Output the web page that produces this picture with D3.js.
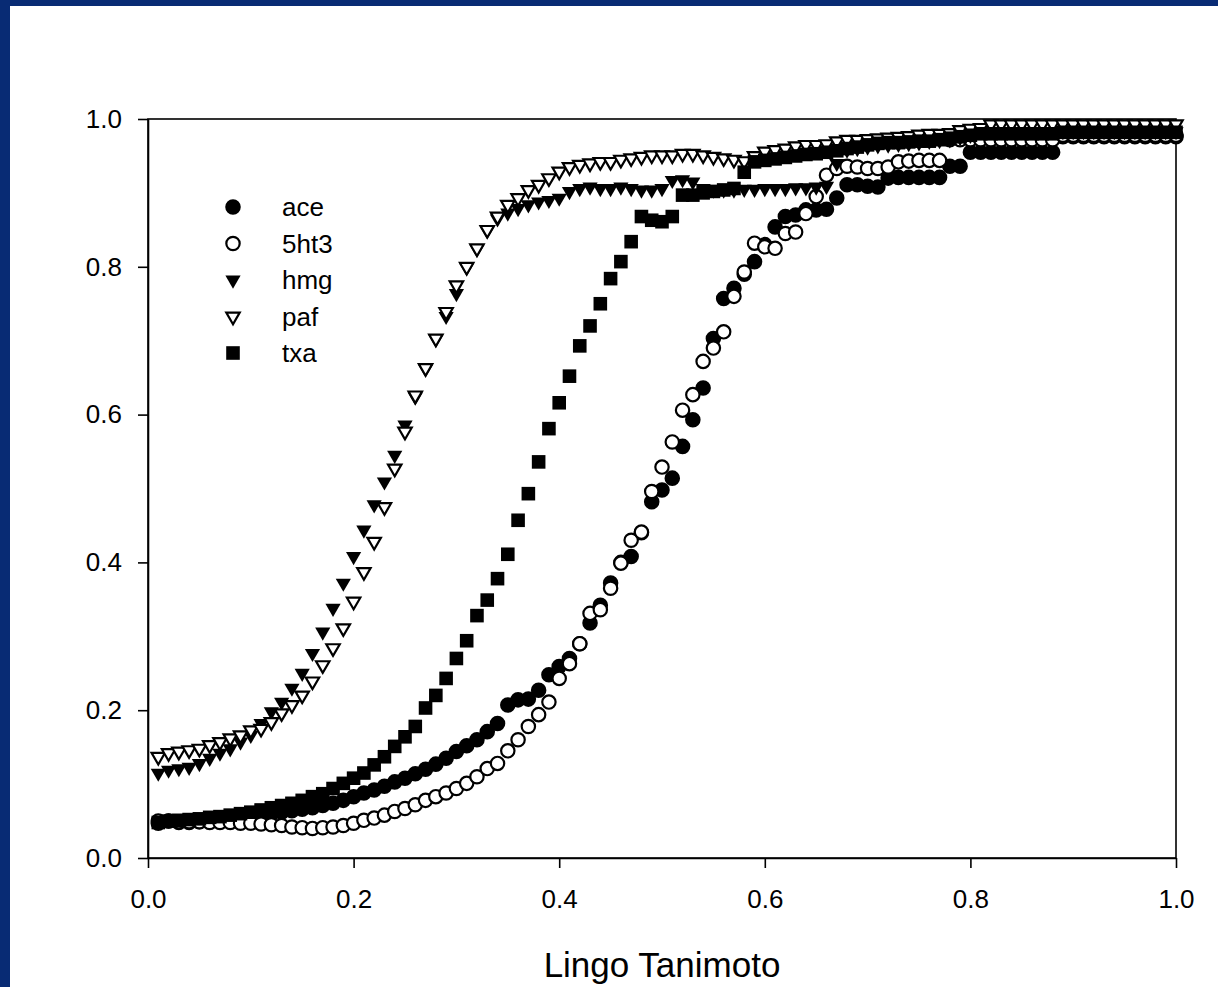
<!DOCTYPE html>
<html>
<head>
<meta charset="utf-8">
<script src="https://cdn.jsdelivr.net/npm/d3@7"></script>
<style>
html,body{margin:0;padding:0;background:#ffffff;overflow:hidden;}
svg{display:block;}
</style>
</head>
<body>
<svg id="chart" width="1218" height="987"></svg>
<script>
// ---------- DATA ----------
const xValues = [
 0.01,0.02,0.03,0.04,0.05,0.06,0.07,0.08,0.09,0.10,
 0.11,0.12,0.13,0.14,0.15,0.16,0.17,0.18,0.19,0.20,
 0.21,0.22,0.23,0.24,0.25,0.26,0.27,0.28,0.29,0.30,
 0.31,0.32,0.33,0.34,0.35,0.36,0.37,0.38,0.39,0.40,
 0.41,0.42,0.43,0.44,0.45,0.46,0.47,0.48,0.49,0.50,
 0.51,0.52,0.53,0.54,0.55,0.56,0.57,0.58,0.59,0.60,
 0.61,0.62,0.63,0.64,0.65,0.66,0.67,0.68,0.69,0.70,
 0.71,0.72,0.73,0.74,0.75,0.76,0.77,0.78,0.79,0.80,
 0.81,0.82,0.83,0.84,0.85,0.86,0.87,0.88,0.89,0.90,
 0.91,0.92,0.93,0.94,0.95,0.96,0.97,0.98,0.99,1.00];

const ace = [
 0.047,0.050,0.048,0.048,0.049,0.050,0.051,0.052,0.054,0.056,
 0.058,0.060,0.062,0.064,0.066,0.068,0.071,0.074,0.078,0.083,
 0.088,0.092,0.097,0.103,0.108,0.114,0.120,0.127,0.135,0.144,
 0.152,0.160,0.171,0.182,0.207,0.214,0.215,0.227,0.248,0.259,
 0.270,0.290,0.318,0.342,0.372,0.400,0.408,0.440,0.482,0.498,
 0.514,0.557,0.593,0.636,0.703,0.757,0.771,0.790,0.807,0.830,
 0.854,0.868,0.870,0.877,0.877,0.878,0.893,0.911,0.911,0.909,
 0.908,0.920,0.921,0.921,0.921,0.921,0.921,0.936,0.936,0.955,
 0.955,0.955,0.955,0.955,0.955,0.955,0.955,0.955,0.976,0.976,
 0.976,0.976,0.976,0.976,0.976,0.976,0.976,0.976,0.976,0.976];

const ht3 = [
 0.050,0.050,0.049,0.049,0.049,0.048,0.048,0.048,0.047,0.047,
 0.046,0.045,0.044,0.042,0.041,0.040,0.041,0.042,0.044,0.047,
 0.051,0.054,0.058,0.063,0.067,0.072,0.078,0.083,0.088,0.094,
 0.101,0.110,0.121,0.128,0.145,0.160,0.178,0.194,0.211,0.243,
 0.263,0.290,0.331,0.336,0.365,0.399,0.430,0.441,0.496,0.529,
 0.563,0.606,0.627,0.672,0.690,0.712,0.760,0.793,0.832,0.827,
 0.825,0.845,0.847,0.872,0.895,0.924,0.933,0.936,0.935,0.933,
 0.933,0.935,0.942,0.943,0.944,0.944,0.944,0.972,0.972,0.972,
 0.972,0.972,0.972,0.972,0.972,0.972,0.972,0.972,0.978,0.978,
 0.978,0.978,0.978,0.978,0.978,0.978,0.978,0.978,0.978,0.978];

const hmg = [
 0.115,0.119,0.121,0.123,0.128,0.135,0.142,0.148,0.157,0.166,
 0.182,0.198,0.211,0.230,0.250,0.277,0.306,0.338,0.372,0.408,
 0.444,0.478,0.509,0.545,0.586,0.624,0.662,0.702,0.733,0.764,
 0.799,0.824,0.849,0.865,0.873,0.879,0.884,0.888,0.890,0.893,
 0.902,0.906,0.908,0.906,0.906,0.908,0.906,0.904,0.904,0.906,
 0.917,0.918,0.915,0.906,0.904,0.904,0.904,0.905,0.905,0.906,
 0.906,0.906,0.907,0.907,0.908,0.909,0.940,0.958,0.960,0.962,
 0.964,0.965,0.966,0.967,0.968,0.970,0.971,0.972,0.975,0.978,
 0.983,0.983,0.983,0.983,0.983,0.983,0.983,0.983,0.983,0.983,
 0.983,0.983,0.983,0.983,0.983,0.983,0.983,0.983,0.983,0.983];

const paf = [
 0.137,0.142,0.144,0.146,0.148,0.153,0.157,0.162,0.166,0.173,
 0.175,0.184,0.196,0.207,0.220,0.239,0.261,0.284,0.311,0.347,
 0.387,0.428,0.475,0.527,0.577,0.626,0.663,0.703,0.739,0.775,
 0.800,0.825,0.850,0.868,0.884,0.893,0.904,0.911,0.920,0.929,
 0.935,0.938,0.940,0.942,0.942,0.945,0.947,0.949,0.951,0.951,
 0.951,0.953,0.953,0.951,0.949,0.947,0.945,0.943,0.950,0.956,
 0.958,0.960,0.963,0.965,0.965,0.966,0.970,0.972,0.972,0.973,
 0.974,0.975,0.976,0.977,0.979,0.980,0.980,0.981,0.985,0.987,
 0.988,0.993,0.993,0.993,0.993,0.993,0.993,0.993,0.993,0.993,
 0.993,0.993,0.993,0.993,0.993,0.993,0.993,0.993,0.993,0.993];

const txa = [
 0.048,0.050,0.051,0.052,0.053,0.055,0.056,0.058,0.060,0.062,
 0.065,0.068,0.071,0.074,0.078,0.083,0.087,0.094,0.101,0.108,
 0.115,0.126,0.137,0.151,0.164,0.178,0.203,0.220,0.243,0.270,
 0.294,0.328,0.349,0.378,0.411,0.457,0.493,0.536,0.581,0.616,
 0.652,0.693,0.720,0.750,0.784,0.807,0.834,0.868,0.863,0.861,
 0.868,0.897,0.897,0.900,0.902,0.904,0.906,0.928,0.942,0.944,
 0.946,0.948,0.950,0.952,0.953,0.955,0.957,0.960,0.962,0.965,
 0.967,0.968,0.968,0.969,0.970,0.970,0.972,0.974,0.976,0.978,
 0.980,0.980,0.980,0.980,0.980,0.980,0.980,0.980,0.982,0.982,
 0.982,0.982,0.982,0.982,0.982,0.982,0.982,0.982,0.982,0.982];

const seriesNames = ["ace","5ht3","hmg","paf","txa"];
const seriesValues = [ace, ht3, hmg, paf, txa];
const xTicks = [0.0,0.2,0.4,0.6,0.8,1.0];
const yTicks = [0.0,0.2,0.4,0.6,0.8,1.0];
const xTitle = "Lingo Tanimoto";

// ---------- STYLE ----------
const W = 1218, H = 987;
const plot = {left:148, right:1176, top:119, bottom:858};
const FONT = "Arial, 'Liberation Sans', Helvetica, sans-serif";
const frameBlue = "#082b74";

const markerStyle = {
  "ace":  {type:d3.symbolCircle,   size:190, fill:"#000", stroke:"none", sw:0, rot:0},
  "5ht3": {type:d3.symbolCircle,   size:140, fill:"#fff", stroke:"#000", sw:2.2, rot:0},
  "hmg":  {type:d3.symbolTriangle, size:100, fill:"#000", stroke:"none", sw:0, rot:180},
  "paf":  {type:d3.symbolTriangle, size:78,  fill:"#fff", stroke:"#000", sw:2.2, rot:180},
  "txa":  {type:d3.symbolSquare,   size:185, fill:"#000", stroke:"none", sw:0, rot:0}
};

const svg = d3.select("#chart");
svg.append("rect").attr("x",0).attr("y",0).attr("width",W).attr("height",H).attr("fill","#fff");
// blue slide frame (top and left strips)
svg.append("rect").attr("x",0).attr("y",0).attr("width",W).attr("height",6).attr("fill",frameBlue);
svg.append("rect").attr("x",0).attr("y",0).attr("width",10).attr("height",H).attr("fill",frameBlue);

const x = d3.scaleLinear().domain([0,1]).range([plot.left, plot.right]);
const y = d3.scaleLinear().domain([0,1]).range([plot.bottom, plot.top]);

// frame
svg.append("rect")
  .attr("x", plot.left).attr("y", plot.top)
  .attr("width", plot.right-plot.left).attr("height", plot.bottom-plot.top)
  .attr("fill","none").attr("stroke","#000").attr("stroke-width",1.6);

const fmt = d3.format(".1f");
const xAxis = svg.append("g").attr("transform",`translate(0,${plot.bottom})`)
  .call(d3.axisBottom(x).tickValues(xTicks).tickFormat(fmt).tickSize(10).tickSizeOuter(0).tickPadding(22));
const yAxis = svg.append("g").attr("transform",`translate(${plot.left},0)`)
  .call(d3.axisLeft(y).tickValues(yTicks).tickFormat(fmt).tickSize(10).tickSizeOuter(0).tickPadding(16));

[xAxis, yAxis].forEach(g => {
  g.select(".domain").attr("stroke","#000").attr("stroke-width",1.6);
  g.selectAll(".tick line").attr("stroke","#000").attr("stroke-width",1.6);
  g.selectAll(".tick text").attr("fill","#000").style("font-family",FONT).style("font-size","26px");
});

// x axis title
svg.append("text").attr("x",(plot.left+plot.right)/2).attr("y",977)
  .attr("text-anchor","middle").style("font-family",FONT).style("font-size","35px").attr("fill","#000")
  .text(xTitle);

// data points
seriesNames.forEach((name, si) => {
  const st = markerStyle[name];
  const sym = d3.symbol().type(st.type).size(st.size);
  svg.append("g").attr("class","series-"+name)
    .selectAll("path").data(xValues.map((xv,i)=>({x:xv, y:seriesValues[si][i]})))
    .join("path")
    .attr("d", sym())
    .attr("transform", d => `translate(${x(d.x)},${y(d.y)}) rotate(${st.rot})`)
    .attr("fill", st.fill)
    .attr("stroke", st.stroke)
    .attr("stroke-width", st.sw);
});

// legend
const legend = svg.append("g").attr("transform","translate(233,207)");
seriesNames.forEach((name, i) => {
  const st = markerStyle[name];
  const sym = d3.symbol().type(st.type).size(st.size);
  const row = legend.append("g").attr("transform",`translate(0,${i*36.5})`);
  row.append("path").attr("d", sym()).attr("transform",`rotate(${st.rot})`)
    .attr("fill",st.fill).attr("stroke",st.stroke).attr("stroke-width",st.sw);
  row.append("text").attr("x",49).attr("y",0).attr("dy","0.35em")
    .style("font-family",FONT).style("font-size","26px").attr("fill","#000").text(name);
});
</script>
</body>
</html>
